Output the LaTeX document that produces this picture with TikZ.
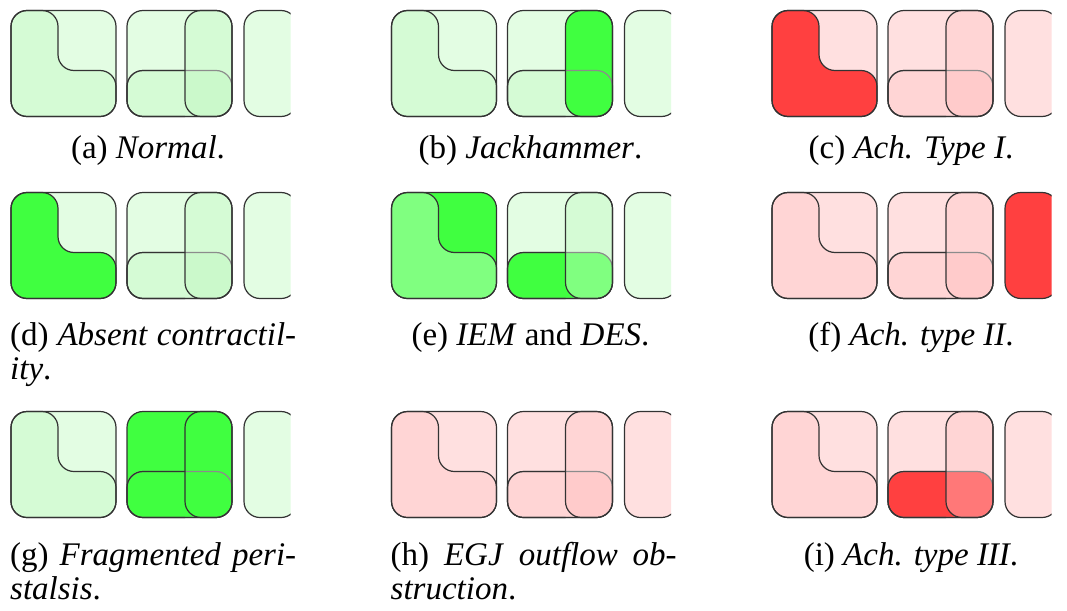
\documentclass[tikz,border=0pt]{standalone}
\usepackage{fontspec}
\setmainfont{Liberation Serif}
\definecolor{LG}{HTML}{E3FDE3}
\definecolor{MG}{HTML}{D5FBD5}
\definecolor{OG}{HTML}{CBF9CB}
\definecolor{SG}{HTML}{40FF40}
\definecolor{GG}{HTML}{80FF80}
\definecolor{LR}{HTML}{FFE0E0}
\definecolor{MR}{HTML}{FFD5D5}
\definecolor{OR}{HTML}{FFCBCB}
\definecolor{SR}{HTML}{FF4040}
\definecolor{RR}{HTML}{FF7878}
\tikzset{
  edge/.style={draw=black!80, line width=1.2pt},
  lightedge/.style={draw=black!45, line width=1.2pt},
  rc/.style={rounded corners=16pt},
  captext/.style={inner sep=0pt, anchor=base, font=\fontsize{33}{36}\selectfont},
  captextl/.style={inner sep=0pt, anchor=base west, font=\fontsize{33}{36}\selectfont}
}
\newcommand\panel[9]{%
\begin{scope}[shift={(#1,#2)}]
  % box 1
  \fill[#3, rc] (0,0) rectangle (105,106);
  \fill[#4, rc] (0,0) -- (47,0) -- (47,60) -- (105,60) -- (105,106) -- (0,106) -- cycle;
  \draw[edge, rc] (0,0) -- (47,0) -- (47,60) -- (105,60) -- (105,106) -- (0,106) -- cycle;
  \draw[edge, rc] (0,0) rectangle (105,106);
  % box 2
  \fill[#5, rc] (116,0) rectangle (221,106);
  \fill[#7, rc] (116,60) rectangle (221,106);
  \fill[#6, rc] (174,0) rectangle (221,106);
  \begin{scope}
    \clip[rc] (174,0) rectangle (221,106);
    \fill[#8, rc] (116,60) rectangle (221,106);
  \end{scope}
  \draw[lightedge, rc] (116,60) rectangle (221,106);
  \begin{scope}
    \clip (100,-5) rectangle (174,115);
    \draw[edge, rc] (116,60) rectangle (221,106);
  \end{scope}
  \draw[edge, rc] (174,0) rectangle (221,106);
  \draw[edge, rc] (116,0) rectangle (221,106);
  % box 3
  \begin{scope}
    \clip (225,-5) rectangle (279.5,115);
    \filldraw[fill=#9, edge, rc] (233,0) rectangle (286,106);
  \end{scope}
\end{scope}}
\begin{document}
\begin{tikzpicture}[x=1pt,y=-1pt]
\useasboundingbox (0,0) rectangle (1067,610);
\fill[white] (0,0) rectangle (1067,610);
% row 1
\panel{11}{10.5}{LG}{MG}{LG}{MG}{MG}{OG}{LG}
\panel{391.5}{10.5}{LG}{MG}{LG}{SG}{MG}{SG}{LG}
\panel{772}{10.5}{LR}{SR}{LR}{MR}{MR}{OR}{LR}
% row 2
\panel{11}{192.5}{LG}{SG}{LG}{MG}{MG}{OG}{LG}
\panel{391.5}{192.5}{SG}{GG}{LG}{MG}{SG}{GG}{LG}
\panel{772}{192.5}{LR}{MR}{LR}{MR}{MR}{OR}{SR}
% row 3
\panel{11}{411.5}{LG}{MG}{SG}{SG}{SG}{SG}{LG}
\panel{391.5}{411.5}{LR}{MR}{LR}{MR}{MR}{OR}{LR}
\panel{772}{411.5}{LR}{MR}{LR}{MR}{SR}{RR}{LR}
% captions
\node[captext] (ca) at (148,158) {(a) \textit{Normal}.};
\node[captext] (cb) at (530.5,158) {(b) \textit{Jackhammer}.};
\node[captext] (cc) at (911,158) {(c) \textit{Ach. Type I}.};
\node[captextl] (cd1) at (10,345) {\makebox[286pt][s]{(d) \textit{Absent} \textit{contractil-}}};
\node[captextl] (cd2) at (10,379) {\textit{ity}.};
\node[captext] (ce) at (530.5,345) {(e) \textit{IEM} and \textit{DES}.};
\node[captext] (cf) at (911,345) {(f) \textit{Ach. type II}.};
\node[captextl] (cg1) at (10,565) {\makebox[286pt][s]{(g) \textit{Fragmented} \textit{peri-}}};
\node[captextl] (cg2) at (10,599) {\textit{stalsis}.};
\node[captextl] (ch1) at (390.5,565) {\makebox[286pt][s]{(h) \textit{EGJ} \textit{outflow} \textit{ob-}}};
\node[captextl] (ch2) at (390.5,599) {\textit{struction}.};
\node[captext] (ci) at (911,565) {(i) \textit{Ach. type III}.};
\end{tikzpicture}
\end{document}
